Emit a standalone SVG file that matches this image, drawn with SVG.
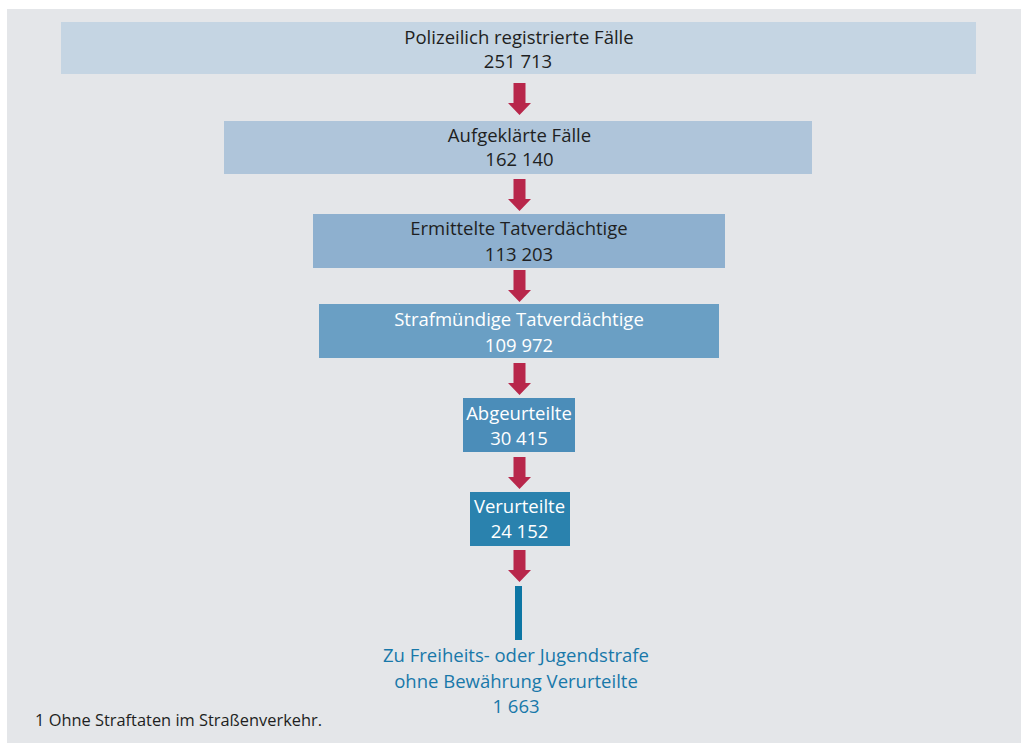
<svg xmlns="http://www.w3.org/2000/svg" xmlns:xlink="http://www.w3.org/1999/xlink" width="1021" height="745" viewBox="0 0 1021 745">
<style>
.t{font-family:"Open Sans","Noto Sans","Liberation Sans",sans-serif;font-size:18.5px;text-anchor:middle}
.dk{fill:#1e1f22}
.wh{fill:#ffffff}
.bl{fill:#1878a9}
.fn{font-family:"Open Sans","Noto Sans","Liberation Sans",sans-serif;font-size:16.4px;fill:#1e1f22}
.arr{fill:#b8274b}
</style>
<defs>
<path id="arrow" d="M-6,0 H6 V20 H11.5 L0,32 L-11.5,20 H-6 Z"/>
</defs>
<rect x="0" y="0" width="1021" height="745" fill="#ffffff"/>
<rect x="7" y="9" width="1014" height="734" fill="#e4e6e9"/>
<g id="node-polizeilich">
<rect x="61" y="22" width="915" height="52" fill="#c5d5e3"/>
<text class="t dk" x="519" y="44">Polizeilich registrierte Fälle</text>
<text class="t dk" x="518" y="68">251 713</text>
</g>
<g id="node-aufgeklaert">
<rect x="224" y="121" width="588" height="53" fill="#afc5da"/>
<text class="t dk" x="519.5" y="142">Aufgeklärte Fälle</text>
<text class="t dk" x="519.5" y="166">162 140</text>
</g>
<g id="node-ermittelt">
<rect x="313" y="214" width="412" height="54" fill="#8eb0cf"/>
<text class="t dk" x="519" y="235">Ermittelte Tatverdächtige</text>
<text class="t dk" x="519" y="261">113 203</text>
</g>
<g id="node-strafmuendig">
<rect x="319" y="304" width="400" height="54" fill="#6a9fc4"/>
<text class="t wh" x="519" y="326">Strafmündige Tatverdächtige</text>
<text class="t wh" x="519" y="351.5">109 972</text>
</g>
<g id="node-abgeurteilt">
<rect x="463" y="398" width="112" height="54" fill="#4b8db9"/>
<text class="t wh" x="519" y="420">Abgeurteilte</text>
<text class="t wh" x="519" y="445">30 415</text>
</g>
<g id="node-verurteilt">
<rect x="470" y="492" width="100" height="54" fill="#2a82ae"/>
<text class="t wh" x="519.5" y="513">Verurteilte</text>
<text class="t wh" x="519.5" y="538">24 152</text>
</g>
<g id="node-freiheitsstrafe">
<rect x="515" y="586" width="7" height="54" fill="#0d76a4"/>
<text class="t bl" x="516" y="662">Zu Freiheits- oder Jugendstrafe</text>
<text class="t bl" x="516" y="688">ohne Bewährung Verurteilte</text>
<text class="t bl" x="516" y="713">1 663</text>
</g>
<g id="connectors" class="arr">
<use xlink:href="#arrow" href="#arrow" transform="translate(519.5,83)"/>
<use xlink:href="#arrow" href="#arrow" transform="translate(519.5,179)"/>
<use xlink:href="#arrow" href="#arrow" transform="translate(519.5,270)"/>
<use xlink:href="#arrow" href="#arrow" transform="translate(519.5,363)"/>
<use xlink:href="#arrow" href="#arrow" transform="translate(519.5,457)"/>
<use xlink:href="#arrow" href="#arrow" transform="translate(519.5,550)"/>
</g>
<g id="footnote">
<text class="fn" x="35" y="726">1 Ohne Straftaten im Straßenverkehr.</text>
</g>
</svg>
